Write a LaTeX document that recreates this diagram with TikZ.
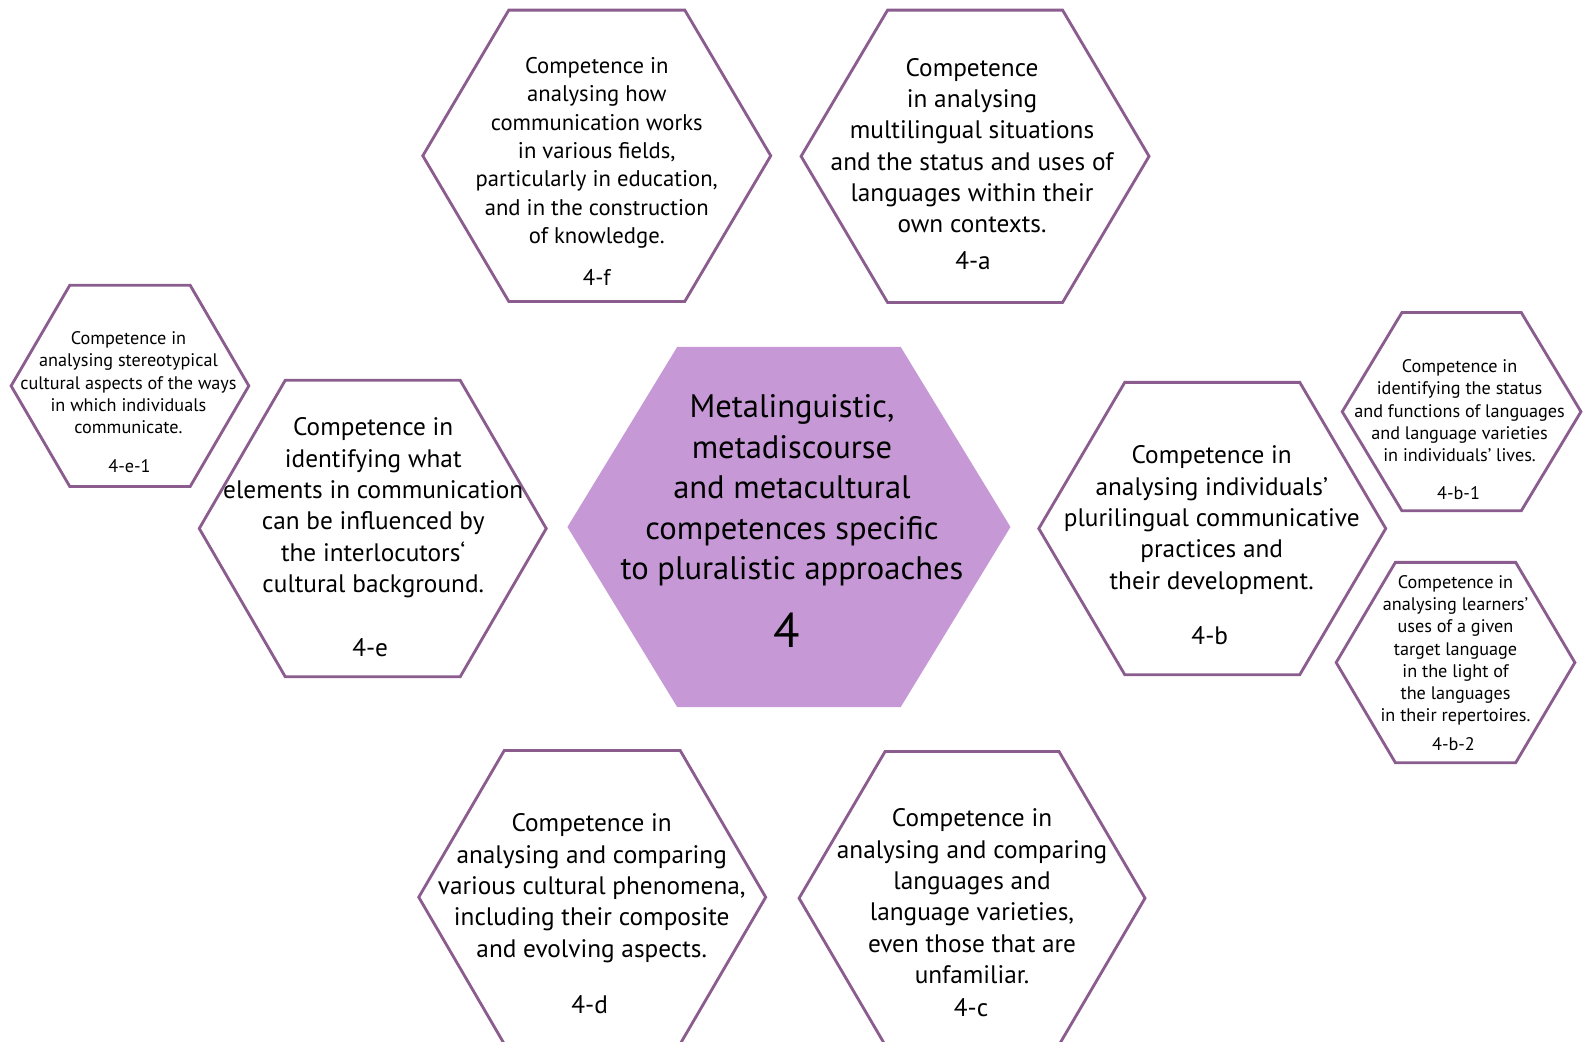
\documentclass[tikz,border=0pt]{standalone}
\usepackage{fontspec}
\setmainfont{PT Sans}
\definecolor{hexedge}{HTML}{8B5C8E}
\definecolor{hexfill}{HTML}{C699D6}
\tikzset{
  hexline/.style={draw=hexedge, line width=1.4pt, line join=miter},
  txt/.style={align=center, inner sep=0pt, text=black},
  big/.style={font=\fontsize{12.5}{15.5}\selectfont},
  mid/.style={font=\fontsize{11.2}{14}\selectfont},
  small/.style={font=\fontsize{9}{11}\selectfont},
}
% #1 options, #2 cx, #3 cy, #4 half width, #5 half top edge, #6 half height
\newcommand{\hexa}[6][]{\draw[hexline,#1] ({#2-#4},{-#3}) -- ({#2-#5},{-#3+#6}) -- ({#2+#5},{-#3+#6}) -- ({#2+#4},{-#3}) -- ({#2+#5},{-#3-#6}) -- ({#2-#5},{-#3-#6}) -- cycle;}
\begin{document}
\begin{tikzpicture}[x=0.5pt,y=0.5pt]
\useasboundingbox (0,0) rectangle (1568,-1030);
\clip (0,0) rectangle (1568,-1030);
% hexagons
\hexa[fill=hexfill,draw=none]{780}{521}{219}{110.5}{178}
\hexa{590}{154}{172}{87}{144}
\hexa{964}{154.5}{172}{86.5}{144.5}
\hexa{368.5}{522.5}{171.5}{86.5}{146.5}
\hexa{128.5}{381.5}{117.5}{59.5}{99.5}
\hexa{1198.5}{522.5}{171.5}{86.5}{144.5}
\hexa{1445}{407}{118}{59}{98}
\hexa{1439}{655}{118}{59.5}{99}
\hexa{585.5}{887}{171.5}{87}{145}
\hexa{961}{888}{171}{86}{145}
% center
\node[txt, font=\fontsize{16.1}{20}\selectfont] (cT) at (783,-485) {Metalinguistic,\\metadiscourse\\and metacultural\\competences specific\\to pluralistic approaches};
\node[txt, font=\fontsize{24}{28}\selectfont] (cL) at (778,-623) {4};
% 4-f
\node[txt, mid] (fT) at (590,-151) {Competence in\\analysing how\\communication works\\in various fields,\\particularly in education,\\and in the construction\\of knowledge.};
\node[txt, mid] (fL) at (590,-274) {4-f};
% 4-a
\node[txt, big] (aT) at (961,-144) {Competence\\in analysing\\multilingual situations\\and the status and uses of\\languages within their\\own contexts.};
\node[txt, big] (aL) at (962,-258) {4-a};
% 4-e
\node[txt, big] (eT) at (369,-502) {Competence in\\identifying what\\elements in communication\\can be influenced by\\the interlocutors‘\\cultural background.};
\node[txt, big] (eL) at (366,-640) {4-e};
% 4-e-1
\node[txt, small] (e1T) at (127,-378.5) {Competence in\\analysing stereotypical\\cultural aspects of the ways\\in which individuals\\communicate.};
\node[txt, small] (e1L) at (128,-461) {4-e-1};
% 4-b
\node[txt, big] (bT) at (1198,-514) {Competence in\\analysing individuals’\\plurilingual communicative\\practices and\\their development.};
\node[txt, big] (bL) at (1196,-628) {4-b};
% 4-b-1
\node[txt, small] (b1T) at (1443,-406) {Competence in\\identifying the status\\and functions of languages\\and language varieties\\in individuals’ lives.};
\node[txt, small] (b1L) at (1442,-487) {4-b-1};
% 4-b-2
\node[txt, small] (b2T) at (1439,-643) {Competence in\\analysing learners\symbol{39}\\uses of a given\\target language\\in the light of\\the languages\\in their repertoires.};
\node[txt, small] (b2L) at (1437,-736) {4-b-2};
% 4-d
\node[txt, big] (dT) at (585,-878) {Competence in\\analysing and comparing\\various cultural phenomena,\\including their composite\\and evolving aspects.};
\node[txt, big] (dL) at (583,-993) {4-d};
% 4-c
\node[txt, big] (cT2) at (961,-886) {Competence in\\analysing and comparing\\languages and\\language varieties,\\even those that are\\unfamiliar.};
\node[txt, big] (cL2) at (960,-996) {4-c};
\end{tikzpicture}
\end{document}
